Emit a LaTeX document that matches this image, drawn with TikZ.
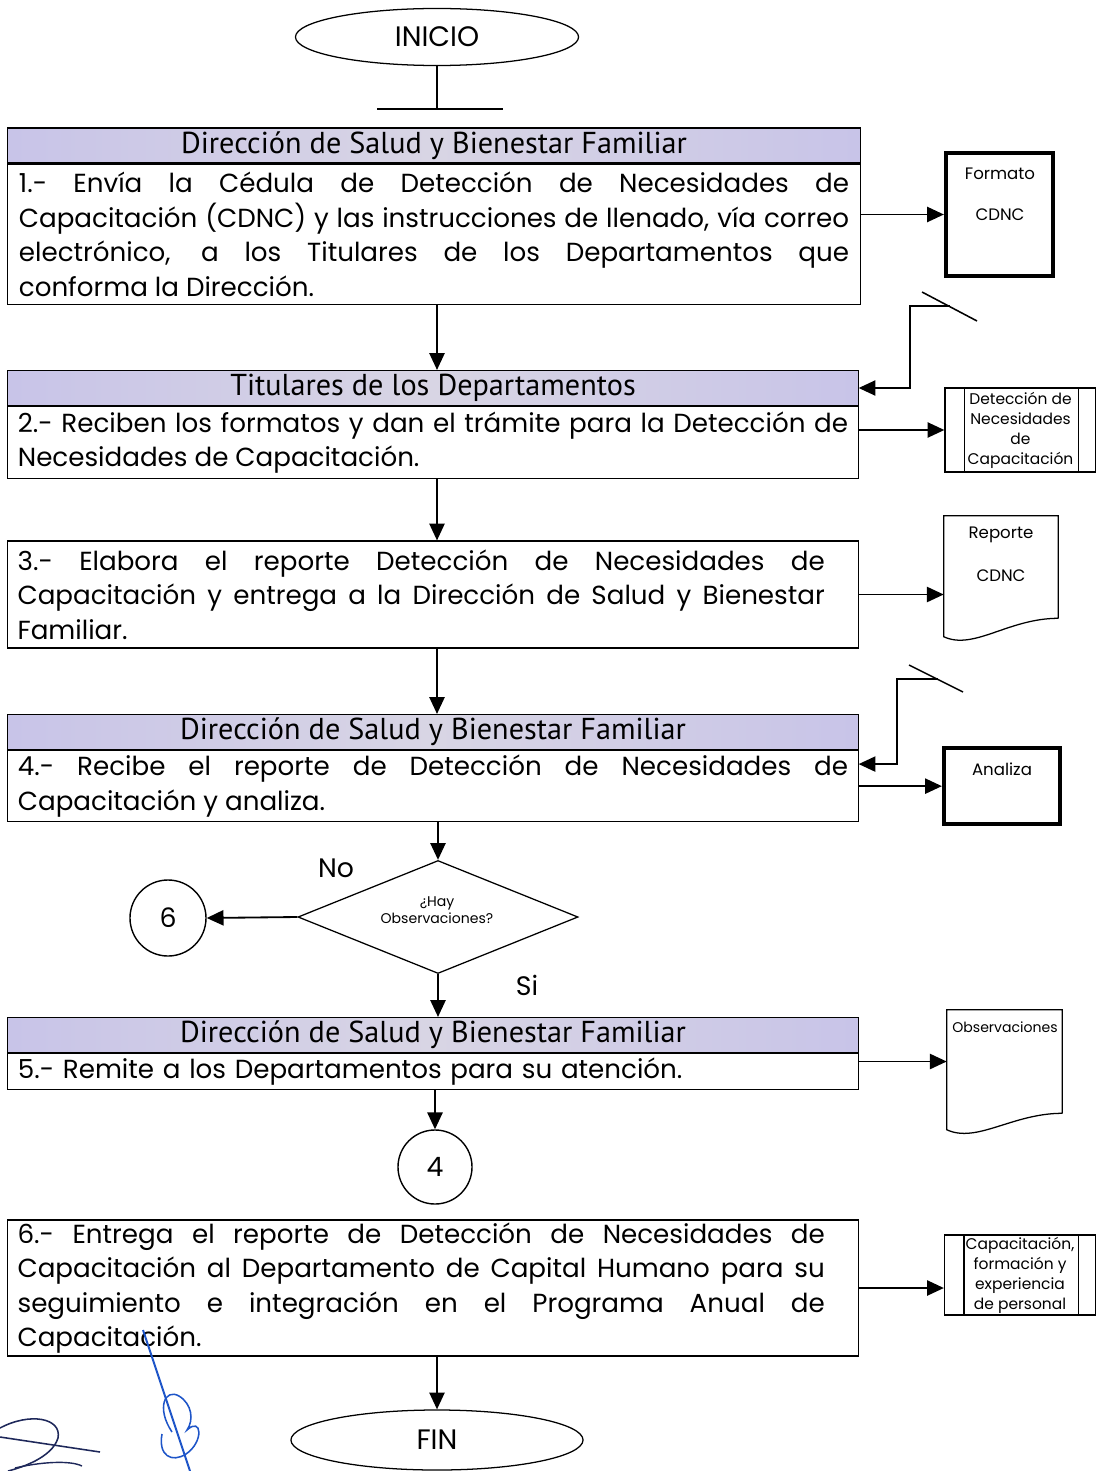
\documentclass[tikz,border=0pt]{standalone}
\usepackage{fontspec}
\setmainfont{Poppins}
\newfontfamily\hdfont{PT Sans}
\usetikzlibrary{arrows.meta}
\usetikzlibrary{shapes.geometric}

\definecolor{lila}{RGB}{200,196,232}
\definecolor{lilagris}{RGB}{216,213,228}
\definecolor{firma}{RGB}{30,85,200}
\definecolor{tinta}{RGB}{30,40,90}

\begin{document}
\begin{tikzpicture}[x=0.025cm, y=-0.025cm,
		flecha/.style={line width=1.3pt, -{Triangle[length=0.42cm, width=0.38cm]}},
		titulo/.style={draw, line width=0.8pt, left color=lila, right color=lila, middle color=lilagris,
			minimum height=0.875cm, inner sep=0pt, font=\hdfont\fontsize{21.5}{22}\selectfont},
		paso/.style={draw, line width=0.8pt, align=justify, text width=20.75cm, inner xsep=0.25cm,
			inner ysep=2pt, font=\fontsize{18.6}{24.5}\selectfont},
		pasotxt/.style={align=justify, text width=20.175cm, inner sep=0pt, font=\fontsize{18.6}{24.5}\selectfont},
		terminal/.style={ellipse, draw, line width=0.9pt, inner sep=0pt, font=\fontsize{20}{22}\selectfont},
		conector/.style={circle, draw, line width=1pt, minimum size=1.9cm, inner sep=0pt, font=\fontsize{19}{22}\selectfont},
		chico/.style={inner sep=0pt, font=\fontsize{11.8}{13}\selectfont},
		grueso/.style={draw, line width=3pt, inner sep=0pt},
		predef/.style={draw, line width=0.9pt, inner sep=0pt, align=center, minimum width=3.775cm,
			font=\fontsize{11}{14.2}\selectfont},
		doc/.style={inner sep=0pt, minimum width=2.85cm}
	]
	\useasboundingbox (0,0) rectangle (1096,1471);

	% inicio
	\node[terminal, minimum width=7.075cm, minimum height=1.425cm] (ini) at (437,37) {INICIO};
	\draw[line width=1pt] (ini.south) -- ++(0,43) coordinate (tb);
	\draw[line width=1pt] (tb) ++(-60,0) -- ++(126,0);

	% paso 1
	\node[titulo, minimum width=21.3cm] (h1) at (434,145.5) {Dirección de Salud y Bienestar Familiar};
	\node[paso, inner xsep=0.275cm, minimum height=3.5cm, anchor=north] (b1) at (h1.south)
		{1.- Envía la Cédula de Detección de Necesidades de\linebreak
		Capacitación (CDNC) y las instrucciones de llenado, vía correo\linebreak
		electrónico, a los Titulares de los Departamentos que\linebreak
		conforma la Dirección.};
	\node[grueso, minimum width=2.675cm, minimum height=3.075cm] (fmt) at (999.5,214.5) {};
	\node[chico] (fmtA) at (1000,174) {Formato};
	\node[chico] (fmtB) at (1000,215) {CDNC};
	\draw[flecha] (b1.east |- fmt.west) -- (fmt.west);

	% paso 2
	\node[titulo, minimum width=21.25cm] (h2) at (433,388) {Titulares de los Departamentos};
	\node[paso, minimum height=1.8cm, anchor=north] (b2) at (h2.south)
		{2.- Reciben los formatos y dan el trámite para la Detección de\linebreak
		Necesidades de Capacitación.};
	\draw[flecha] (b1.south -| ini) -- (h2.north -| ini);
	\coordinate (e1a) at (922,292);
	\coordinate (e1b) at (977,321);
	\coordinate (e1) at (950,306);
	\draw[line width=1.1pt] (e1a) -- (e1b);
	\draw[flecha] (e1) -- ++(-40,0) |- (h2.east);
	\node[predef, minimum height=2.1cm] (dnc) at (1020.5,430)
		{Detección de\\Necesidades\\de\\Capacitación};
	\draw[line width=0.9pt] ([xshift=0.5cm]dnc.north west) -- ([xshift=0.5cm]dnc.south west);
	\draw[line width=0.9pt] ([xshift=-0.45cm]dnc.north east) -- ([xshift=-0.45cm]dnc.south east);
	\draw[flecha] (b2.east |- dnc.west) -- (dnc.west);

	% paso 3
	\node[draw, line width=0.8pt, minimum width=21.25cm, minimum height=2.675cm] (b3) at (433,594.5) {};
	\node[pasotxt, anchor=west] (t3) at ([xshift=0.25cm]b3.west)
		{3.- Elabora el reporte Detección de Necesidades de\linebreak
		Capacitación y entrega a la Dirección de Salud y Bienestar\linebreak
		Familiar.};
	\draw[flecha] (b2.south -| ini) -- (b3.north -| ini);
	\node[doc, minimum height=2.55cm] (rep) at (1001,567) {};
	\draw[line width=0.9pt] (rep.south east) -- (rep.north east) -- (rep.north west) -- ++(0,121)
		.. controls +(30,14) and +(-50,0) .. (rep.south east);
	\node[chico] (repA) at (1001,535) {Reporte};
	\node[chico] (repB) at (1001,576) {CDNC};
	\draw[flecha] (b3.east) -- (b3.east -| rep.west);

	% paso 4
	\node[titulo, minimum width=21.25cm] (h4) at (433,732) {Dirección de Salud y Bienestar Familiar};
	\node[paso, minimum height=1.775cm, anchor=north] (b4) at (h4.south)
		{4.- Recibe el reporte de Detección de Necesidades de\linebreak
		Capacitación y analiza.};
	\draw[flecha] (b3.south -| ini) -- (h4.north -| ini);
	\coordinate (e2a) at (909,665);
	\coordinate (e2b) at (963,692);
	\coordinate (e2) at (938,679);
	\draw[line width=1.1pt] (e2a) -- (e2b);
	\draw[flecha] (e2) -- ++(-41,0) |- ([yshift=-0.35cm]b4.north east);
	\node[grueso, minimum width=2.9cm, minimum height=1.9cm] (ana) at (1002,786) {};
	\node[chico] (anaA) at (1002,769) {Analiza};
	\draw[flecha] (b4.east) -- (b4.east -| ana.west);

	% decision
	\node[diamond, draw, line width=0.9pt, inner sep=0pt, minimum width=7cm, minimum height=2.825cm] (dia) at (438,917) {};
	\node[align=center, inner sep=0pt, font=\fontsize{10}{12}\selectfont] (diaT) at (437,910) {¿Hay\\Observaciones?};
	\draw[flecha] (b4.south -| dia) -- (dia.north);
	\node[conector] (c6) at (168,918) {6};
	\draw[flecha] (dia.west) -- (c6.east);
	\node[font=\fontsize{19}{22}\selectfont] (no) at (336,868) {No};
	\node[font=\fontsize{19}{22}\selectfont] (si) at (527,985) {Si};

	% paso 5
	\node[titulo, minimum width=21.25cm] (h5) at (433,1035) {Dirección de Salud y Bienestar Familiar};
	\node[paso, align=left, minimum height=0.9cm, anchor=north] (b5) at (h5.south)
		{5.- Remite a los Departamentos para su atención.};
	\draw[flecha] (dia.south) -- (h5.north -| dia);
	\node[doc, minimum width=2.875cm, minimum height=2.575cm] (obs) at (1004.5,1061.5) {};
	\draw[line width=0.9pt] (obs.south east) -- (obs.north east) -- (obs.north west) -- ++(0,120)
		.. controls +(30,14) and +(-50,0) .. (obs.south east);
	\node[chico, font=\fontsize{10}{12}\selectfont] (obsA) at (1005,1027) {Observaciones};
	\draw[flecha] (b5.east |- obs.west) -- (obs.west);
	\node[conector, minimum size=1.85cm] (c4) at (435,1167) {4};
	\draw[flecha] (b5.south -| c4) -- (c4.north);

	% paso 6
	\node[draw, line width=0.8pt, minimum width=21.25cm, minimum height=3.4cm] (b6) at (433,1288) {};
	\node[pasotxt, anchor=west] (t6) at ([xshift=0.25cm]b6.west)
		{6.- Entrega el reporte de Detección de Necesidades de\linebreak
		Capacitación al Departamento de Capital Humano para su\linebreak
		seguimiento e integración en el Programa Anual de\linebreak
		Capacitación.};
	\node[predef, minimum height=2cm] (cap) at (1020,1275)
		{Capacitación,\\formación y\\experiencia\\de personal};
	\draw[line width=0.9pt] ([xshift=0.5cm]cap.north west) -- ([xshift=0.5cm]cap.south west);
	\draw[line width=0.9pt] ([xshift=-0.45cm]cap.north east) -- ([xshift=-0.45cm]cap.south east);
	\draw[flecha] (b6.east) -- (b6.east -| cap.west);

	% fin
	\node[terminal, minimum width=7.3cm, minimum height=1.5cm] (fin) at (437,1440) {FIN};
	\draw[flecha] (b6.south -| fin) -- (fin.north);

	% firma
	\draw[firma, line width=1.4pt] (143,1330) -- (190,1471);
	\draw[firma, line width=1.1pt] (172,1432) .. controls (156,1408) and (165,1388) .. (179,1396)
		.. controls (192,1404) and (194,1420) .. (187,1430)
		.. controls (202,1416) and (204,1442) .. (186,1454)
		.. controls (172,1463) and (158,1456) .. (162,1434);
	\draw[tinta, line width=1.1pt] (0,1428) .. controls (30,1412) and (62,1418) .. (58,1438)
		.. controls (52,1458) and (20,1468) .. (8,1471);
	\draw[tinta, line width=1.1pt] (0,1437) -- (100,1452);
	\draw[tinta, line width=1pt] (15,1468) .. controls (40,1462) and (70,1460) .. (82,1466);
\end{tikzpicture}
\end{document}
